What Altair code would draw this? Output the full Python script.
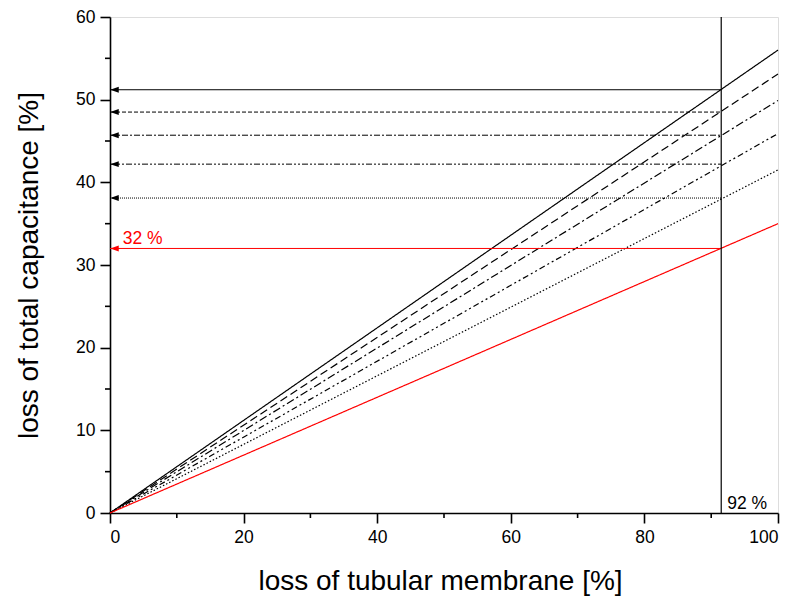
import altair as alt
import pandas as pd

# data
series_names = ["s1", "s2", "s3", "s4", "s5", "s6"]
end_values = [56.0, 53.1, 49.9, 45.9, 41.5, 35.0]      # y at x = 100
arrow_levels = [51.2, 48.5, 45.7, 42.2, 38.1, 32.0]    # y where arrows start at x_mark
x_mark = 91.5
line_colors = ["#000000", "#000000", "#000000", "#000000", "#000000", "#ff0000"]
line_dashes = [[1, 0], [8, 4], [8, 3, 2, 3], [6, 3, 2, 3, 2, 3], [1.5, 2], [1, 0]]
arrow_dashes = [[1, 0], [4, 2], [6, 2, 2, 2], [6, 2, 2, 2, 2, 2], [1, 1], [1, 0]]
x_major = [0, 20, 40, 60, 80, 100]
x_minor = [10, 30, 50, 70, 90]
y_major = [0, 10, 20, 30, 40, 50, 60]
y_minor = [5, 15, 25, 35, 45, 55]

FONT = "Liberation Sans"
W, H = 668, 496

xscale = alt.Scale(domain=[0, 100], nice=False, zero=False)
yscale = alt.Scale(domain=[0, 60], nice=False, zero=False)

xaxis = alt.Axis(
    title="loss of tubular membrane [%]",
    values=x_major, tickSize=10,
    grid=False, domainColor="black", tickColor="black", domainWidth=1.6, tickWidth=1.6,
    labelFont=FONT, labelFontSize=17.5, labelColor="black", labelPadding=5,
    titleFont=FONT, titleFontSize=28, titleFontWeight="normal", titleColor="black",
    titleBaseline="alphabetic", titleX=W / 2 - 4, titleY=76,
)
yaxis = alt.Axis(
    title="loss of total capacitance [%]",
    values=y_major, tickSize=10,
    grid=False, domainColor="black", tickColor="black", domainWidth=1.6, tickWidth=1.6,
    labelFont=FONT, labelFontSize=17.5, labelColor="black", labelPadding=5,
    titleFont=FONT, titleFontSize=28, titleFontWeight="normal", titleColor="black",
    titleBaseline="alphabetic", titleX=-73, titleY=H / 2,
)

def X(f):
    return alt.X(f, type="quantitative", scale=xscale, axis=xaxis)

def Y(f):
    return alt.Y(f, type="quantitative", scale=yscale, axis=yaxis)

layers = []
for name, end, col, dash in zip(series_names, end_values, line_colors, line_dashes):
    df = pd.DataFrame({"x": [0, 100], "y": [0, end]})
    layers.append(
        alt.Chart(df).mark_line(color=col, strokeDash=dash, strokeWidth=1.2)
        .encode(x=X("x"), y=Y("y"))
    )

for lvl, col, dash in zip(arrow_levels, line_colors, arrow_dashes):
    df = pd.DataFrame({"x0": [0], "x1": [x_mark], "y": [lvl]})
    layers.append(
        alt.Chart(df).mark_rule(color=col, strokeDash=dash, strokeWidth=1)
        .encode(x=X("x0"), x2="x1", y=Y("y"))
    )
    layers.append(
        alt.Chart(df).mark_point(shape="M-1,0L1,-0.7L1,0.7Z", filled=True, opacity=1,
                                 color=col, size=72, xOffset=4.5, strokeWidth=0)
        .encode(x=X("x0"), y=Y("y"))
    )

vdf = pd.DataFrame({"x": [x_mark], "y0": [0], "y1": [60]})
layers.append(
    alt.Chart(vdf).mark_rule(color="black", strokeWidth=1.2)
    .encode(x=X("x"), y=Y("y0"), y2="y1")
)

# minor ticks
layers.append(
    alt.Chart(pd.DataFrame({"v": y_minor})).mark_rule(color="black", strokeWidth=1.6)
    .encode(y=Y("v"), x=alt.value(0), x2=alt.value(-5))
)
layers.append(
    alt.Chart(pd.DataFrame({"v": x_minor})).mark_rule(color="black", strokeWidth=1.6)
    .encode(x=X("v"), y=alt.value(H), y2=alt.value(H + 5))
)

tdf = pd.DataFrame({"x": [1.9, 92.4], "y": [32, 0], "t": ["32 %", "92 %"], "c": ["#ff0000", "#000000"]})
layers.append(
    alt.Chart(tdf).mark_text(align="left", baseline="alphabetic", dy=-4, font=FONT, fontSize=17.5)
    .encode(x=X("x"), y=Y("y"), text="t:N", color=alt.Color("c:N", scale=None))
)

chart = alt.layer(*layers).properties(
    width=W, height=H,
    padding={"left": 102, "top": 9, "right": 14, "bottom": 83},
    autosize=alt.AutoSizeParams(type="none"),
).configure_view(stroke=None).configure(background="white")

chart.save("out.html", embed_options={"renderer": "svg", "actions": False})
